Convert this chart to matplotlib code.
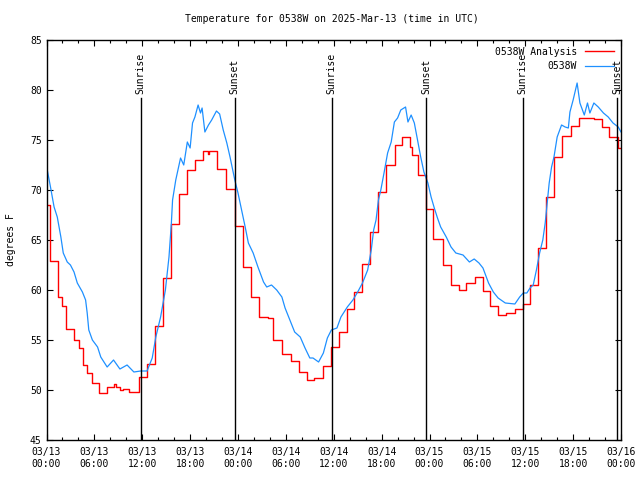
import matplotlib
matplotlib.use("Agg")
import matplotlib.pyplot as plt
from matplotlib.ticker import MultipleLocator

# ---- data (hours since 2025-03-13 00:00 UTC) ----
obs_t = [0, 0.5, 0.95, 1.35, 1.8, 2.1, 2.6, 3.0, 3.45, 3.86, 4.5, 4.9, 5.1, 5.3, 5.75, 6.4, 6.8,
         7.6, 8.4, 9.2, 10.1, 10.95, 11.8, 12.6, 13.25, 13.7, 14.3, 14.9, 15.35, 15.65, 15.8,
         16.2, 16.8, 17.2, 17.65, 18.0, 18.3, 18.6, 19.0, 19.3, 19.5, 19.85, 20.3, 20.7, 21.3,
         21.7, 22.15, 22.6, 23.0, 23.6, 24.0, 24.45, 24.9, 25.3, 25.9, 26.5, 27.2, 27.6, 28.2,
         28.85, 29.5, 29.9, 30.5, 31.1, 31.8, 32.4, 33.0, 33.4, 34.1, 34.7, 35.2, 35.7, 36.4,
         36.9, 37.7, 38.4, 39.0, 39.6, 40.25, 40.7, 41.0, 41.3, 41.6, 41.9, 42.3, 42.75, 43.2,
         43.6, 44.0, 44.4, 45.0, 45.3, 45.7, 46.1, 46.5, 46.9, 47.3, 47.8, 48.2, 48.6, 49.0,
         49.4, 50.1, 50.7, 51.3, 52.2, 53.0, 53.6, 54.2, 54.7, 55.4, 56.0, 56.6, 57.5, 58.7,
         59.3, 59.75, 60.2, 60.6, 61.0, 61.4, 61.8, 62.2, 62.5, 62.7, 63.0, 63.3, 63.6, 64.0,
         64.55, 65.0, 65.4, 65.6, 66.0, 66.5, 66.85, 67.4, 67.8, 68.1, 68.6, 69.15, 69.8, 70.4,
         71.0, 71.65, 72.0]
obs_v = [72.4, 70.3, 68.3, 67.3, 65.3, 63.7, 62.8, 62.5, 61.8, 60.7, 59.8, 59.0, 57.7, 56.0,
         55.0, 54.3, 53.3, 52.3, 53.0, 52.1, 52.5, 51.8, 51.9, 51.9, 53.2, 55.3, 57.3, 60.0,
         63.3, 66.7, 69.0, 71.0, 73.2, 72.5, 74.8, 74.2, 76.7, 77.3, 78.5, 77.7, 78.2, 75.8,
         76.5, 77.0, 77.9, 77.6, 76.0, 74.7, 73.3, 71.0, 69.7, 68.0, 66.3, 64.7, 63.7, 62.3,
         60.8, 60.3, 60.5, 60.0, 59.3, 58.2, 57.0, 55.8, 55.3, 54.2, 53.2, 53.2, 52.8, 53.7,
         55.2, 56.0, 56.2, 57.3, 58.3, 59.0, 59.8, 60.7, 62.0, 64.0, 66.0, 67.0, 69.0, 70.0,
         71.7, 73.7, 74.8, 76.8, 77.2, 78.0, 78.3, 76.8, 77.5, 76.7, 75.0, 73.3, 71.8, 70.7,
         69.3, 68.2, 67.2, 66.3, 65.3, 64.3, 63.7, 63.5, 62.8, 63.1, 62.7, 62.2, 60.7, 59.8,
         59.2, 58.7, 58.6, 59.3, 59.7, 59.7, 60.2, 60.5, 62.0, 63.7, 65.0, 66.7, 68.3, 70.7,
         72.3, 73.3, 75.3, 76.5, 76.3, 76.2, 77.8, 79.0, 80.7, 78.7, 77.5, 78.7, 77.7, 78.7,
         78.3, 77.7, 77.3, 76.7, 76.3, 75.8]

ana_t = [0, 0.5, 1.5, 1.9, 2.5, 3.5, 4.1, 4.6, 5.1, 5.7, 6.6, 7.6, 8.4, 8.7, 9.2, 9.6, 10.3,
         11.6, 12.55, 13.55, 14.6, 15.55, 16.6, 17.65, 18.6, 19.65, 20.2, 20.4, 21.4, 22.5,
         23.6, 24.6, 25.6, 26.6, 27.7, 28.35, 29.55, 30.6, 31.6, 32.7, 33.55, 34.6, 35.6, 36.6,
         37.6, 38.6, 39.5, 40.6, 41.6, 42.6, 43.7, 44.6, 45.6, 45.8, 46.5, 47.6, 48.5, 49.65,
         50.7, 51.7, 52.6, 53.7, 54.65, 55.6, 56.6, 57.6, 58.7, 59.7, 60.6, 61.55, 62.55, 63.6,
         64.6, 65.7, 66.7, 68.6, 69.6, 70.5, 71.6, 72.0]
ana_v = [68.5, 62.9, 59.3, 58.4, 56.1, 55.0, 54.2, 52.5, 51.7, 50.7, 49.7, 50.3, 50.6, 50.3,
         50.0, 50.1, 49.8, 51.3, 52.6, 56.4, 61.2, 66.6, 69.6, 72.0, 73.0, 73.9, 73.6, 73.9,
         72.1, 70.1, 66.4, 62.3, 59.3, 57.3, 57.2, 55.0, 53.6, 52.9, 51.8, 51.0, 51.2, 52.4,
         54.3, 55.8, 58.1, 59.8, 62.6, 65.8, 69.8, 72.5, 74.5, 75.3, 74.3, 73.5, 71.5, 68.1,
         65.1, 62.5, 60.5, 60.0, 60.7, 61.3, 59.9, 58.4, 57.5, 57.7, 58.1, 58.6, 60.5, 64.2,
         69.3, 73.3, 75.4, 76.4, 77.2, 77.1, 76.3, 75.3, 74.2, 74.2]

sun_t = [11.8, 23.6, 35.75, 47.55, 59.7, 71.5]
sun_lbl = ["Sunrise", "Sunset", "Sunrise", "Sunset", "Sunrise", "Sunset"]

tick_hours = [0, 6, 12, 18, 24, 30, 36, 42, 48, 54, 60, 66, 72]
tick_labels = ["03/13\n00:00", "03/13\n06:00", "03/13\n12:00", "03/13\n18:00",
               "03/14\n00:00", "03/14\n06:00", "03/14\n12:00", "03/14\n18:00",
               "03/15\n00:00", "03/15\n06:00", "03/15\n12:00", "03/15\n18:00",
               "03/16\n00:00"]

plt.rcParams['font.family'] = ['DejaVu Sans Mono']
FS = 7

fig = plt.figure(figsize=(6.4, 4.8), dpi=100)
ax = fig.add_axes([46.5 / 640, 1 - 440 / 480, (621 - 46.5) / 640, 400 / 480])

ax.plot(ana_t, ana_v, color='#ff0000', lw=1.0, drawstyle='steps-post', label='0538W Analysis')
ax.plot(obs_t, obs_v, color='#1e90ff', lw=0.9, label='0538W')

for t, lbl in zip(sun_t, sun_lbl):
    ax.axvline(t, ymin=0, ymax=0.855, color='black', lw=1.0)
    ax.text(t, 0.865, lbl, transform=ax.get_xaxis_transform(), rotation=90,
            ha='center', va='bottom', fontsize=FS)

ax.set_xlim(0, 72)
ax.set_ylim(45, 85)
ax.set_xticks(tick_hours)
ax.set_xticklabels(tick_labels, fontsize=FS)
ax.xaxis.set_minor_locator(MultipleLocator(2))
ax.yaxis.set_major_locator(MultipleLocator(5))
ax.tick_params(axis='y', labelsize=FS)
ax.tick_params(which='major', direction='in', length=4.5, width=0.8, top=True, right=True)
ax.tick_params(which='minor', direction='in', length=2.2, width=0.8, top=True, right=True)
ax.tick_params(axis='x', pad=5)
for s in ax.spines.values():
    s.set_linewidth(1.0)

ax.set_ylabel('degrees F', fontsize=FS, labelpad=10)
fig.text(332 / 640, 1 - 19 / 480, 'Temperature for 0538W on 2025-Mar-13 (time in UTC)',
         ha='center', va='center', fontsize=FS)

ax.legend(loc='upper right', frameon=False, markerfirst=False, fontsize=FS,
          handlelength=3.0, handletextpad=0.8, borderaxespad=0.6, labelspacing=0.45,
          borderpad=0.1)

fig.savefig('out.png', dpi=100)
